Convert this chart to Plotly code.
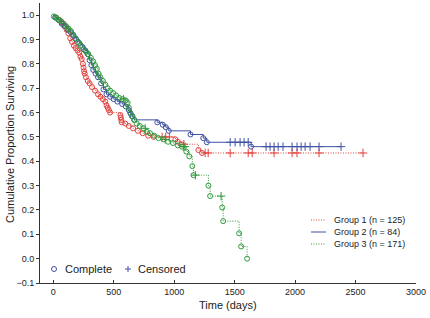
import plotly.graph_objects as go

# Group 1 (red): event times (complete) and survival after event
g1_event_t = [25, 50, 70, 90, 110, 125, 140, 155, 170, 185, 200, 215, 225, 235, 245, 250, 255, 260, 270, 285,
              300, 320, 345, 370, 390, 410, 430, 440, 450, 460, 470, 555, 558, 562, 566, 595, 625, 660, 700, 740,
              785, 830, 1010, 1030, 1060, 1200, 1230]
g1_event_s = [0.99, 0.98, 0.97, 0.955, 0.94, 0.925, 0.905, 0.89, 0.875, 0.865, 0.855, 0.845, 0.83, 0.82, 0.80,
              0.785, 0.77, 0.76, 0.745, 0.73, 0.72, 0.705, 0.69, 0.675, 0.665, 0.655, 0.645, 0.63, 0.62, 0.61,
              0.60, 0.59, 0.58, 0.57, 0.56, 0.555, 0.545, 0.535, 0.525, 0.515, 0.505, 0.50, 0.49, 0.48, 0.47,
              0.446, 0.434]
g1_cens_t = [900, 930, 960, 1080, 1256, 1281, 1463, 1612, 1645, 1826, 1975, 2016, 2198, 2562]
g1_cens_s = [0.50, 0.50, 0.50, 0.47, 0.434, 0.434, 0.434, 0.434, 0.434, 0.434, 0.434, 0.434, 0.434, 0.434]

# Group 2 (blue)
g2_event_t = [15, 45, 70, 95, 120, 145, 165, 190, 215, 240, 265, 285, 300, 315, 330, 350, 370, 395, 415, 440,
              470, 500, 530, 570, 600, 625, 640, 655, 670, 860, 905, 930, 955, 1135, 1240, 1270, 1636]
g2_event_s = [0.99, 0.98, 0.965, 0.955, 0.94, 0.93, 0.915, 0.90, 0.885, 0.87, 0.855, 0.84, 0.815, 0.795, 0.775,
              0.76, 0.745, 0.72, 0.695, 0.675, 0.665, 0.655, 0.645, 0.635, 0.625, 0.61, 0.595, 0.585, 0.57,
              0.56, 0.55, 0.54, 0.525, 0.51, 0.495, 0.478, 0.46]
g2_cens_t = [1463, 1504, 1545, 1578, 1612, 1760, 1793, 1826, 1860, 1900, 1975, 2016, 2050, 2083, 2124, 2198, 2380]
g2_cens_s = [0.478, 0.478, 0.478, 0.478, 0.478, 0.46, 0.46, 0.46, 0.46, 0.46, 0.46, 0.46, 0.46, 0.46, 0.46,
             0.46, 0.46]

# Group 3 (green)
g3_event_t = [5, 25, 45, 65, 85, 105, 125, 145, 165, 185, 205, 225, 250, 270, 290, 310, 330, 345, 360, 375,
              390, 410, 430, 450, 470, 495, 520, 545, 575, 600, 615, 625, 635, 650, 670, 690, 715, 745, 775,
              800, 835, 870, 910, 950, 990, 1030, 1065, 1100, 1125, 1150, 1160, 1283, 1297, 1397, 1405, 1537,
              1554, 1603]
g3_event_s = [0.995, 0.99, 0.98, 0.975, 0.965, 0.955, 0.945, 0.935, 0.92, 0.905, 0.89, 0.875, 0.86, 0.85, 0.84,
              0.825, 0.81, 0.795, 0.78, 0.76, 0.745, 0.73, 0.715, 0.70, 0.69, 0.68, 0.67, 0.66, 0.655, 0.65,
              0.64, 0.62, 0.60, 0.585, 0.57, 0.555, 0.545, 0.535, 0.52, 0.515, 0.505, 0.495, 0.49, 0.48,
              0.475, 0.465, 0.46, 0.44, 0.42, 0.38, 0.343, 0.30, 0.257, 0.21, 0.154, 0.104, 0.05, 0.0]
g3_cens_t = [580, 760, 925, 1075, 1090, 1175, 1388]
g3_cens_s = [0.655, 0.535, 0.49, 0.46, 0.46, 0.343, 0.257]

RED, BLUE, GREEN = "#e2403c", "#3f51a3", "#2f9a3c"
DOT = "1px,1.5px"

groups = [
    ("Group 1 (n = 125)", g1_event_t, g1_event_s, g1_cens_t, g1_cens_s, RED, DOT),
    ("Group 2 (n = 84)", g2_event_t, g2_event_s, g2_cens_t, g2_cens_s, BLUE, "solid"),
    ("Group 3 (n = 171)", g3_event_t, g3_event_s, g3_cens_t, g3_cens_s, GREEN, DOT),
]

fig = go.Figure()
for name, et, es, ct, cs, col, dash in groups:
    pts = sorted([(t, s) for t, s in zip(et, es)] + [(t, s) for t, s in zip(ct, cs)])
    xs = [0] + [p[0] for p in pts]
    ys = [1.0] + [p[1] for p in pts]
    fig.add_trace(go.Scatter(x=xs, y=ys, mode="lines", line=dict(color=col, width=1, dash=dash, shape="hv"),
                             showlegend=False, hoverinfo="skip"))
    fig.add_trace(go.Scatter(x=et, y=es, mode="markers",
                             marker=dict(symbol="circle-open", size=5, color=col, line=dict(width=1, color=col)),
                             showlegend=False))
    fig.add_trace(go.Scatter(x=ct, y=cs, mode="markers",
                             marker=dict(symbol="cross-thin", size=6, color=col, line=dict(width=1, color=col)),
                             showlegend=False))

L, R, T, B = 40, 416, 3, 283
W_, H_ = R - L, B - T
def px(x):
    return (x - L) / W_
def py(y):
    return (B - y) / H_

shapes = []
annotations = []
legend_rows = [(220, "Group 1 (n = 125)", RED, DOT),
               (232, "Group 2 (n = 84)", BLUE, "solid"),
               (244, "Group 3 (n = 171)", GREEN, DOT)]
for yy, txt, col, dash in legend_rows:
    shapes.append(dict(type="line", xref="paper", yref="paper", x0=px(311), x1=px(326), y0=py(yy), y1=py(yy),
                       line=dict(color=col, width=1, dash=dash)))
    annotations.append(dict(xref="paper", yref="paper", x=px(332), y=py(yy), text=txt, showarrow=False,
                            xanchor="left", yanchor="middle", font=dict(size=9, color="#222")))

annotations.append(dict(xref="paper", yref="paper", x=px(63), y=py(269), text="Complete", showarrow=False,
                        xanchor="left", yanchor="middle", font=dict(size=11, color="#222")))
annotations.append(dict(xref="paper", yref="paper", x=px(136), y=py(269), text="Censored", showarrow=False,
                        xanchor="left", yanchor="middle", font=dict(size=11, color="#222")))
# axis titles
annotations.append(dict(xref="paper", yref="paper", x=px(228), y=py(305), text="Time (days)", showarrow=False,
                        xanchor="center", yanchor="middle", font=dict(size=11, color="#222")))
annotations.append(dict(xref="paper", yref="paper", x=px(10), y=py(145), text="Cumulative Proportion Surviving",
                        showarrow=False, textangle=-90, xanchor="center", yanchor="middle",
                        font=dict(size=11, color="#222")))

fig.update_layout(
    width=430, height=318,
    margin=dict(l=L, r=430 - R, t=T, b=318 - B, autoexpand=False),
    paper_bgcolor="white", plot_bgcolor="white",
    font=dict(family="Liberation Sans, Arial, sans-serif", size=9, color="#222"),
    shapes=shapes, annotations=annotations,
    xaxis=dict(range=[-110, 3000], tickvals=[0, 500, 1000, 1500, 2000, 2500, 3000], automargin=False,
               showgrid=False, zeroline=False, showline=True, linecolor="#333", linewidth=1,
               ticks="inside", ticklen=3, tickcolor="#333"),
    yaxis=dict(range=[-0.1, 1.05], tickvals=[-0.1, 0, 0.1, 0.2, 0.3, 0.4, 0.5, 0.6, 0.7, 0.8, 0.9, 1.0],
               automargin=False,
               tickformat=".1f", showgrid=False, zeroline=False, showline=True, linecolor="#333", linewidth=1,
               ticks="outside", ticklen=3, tickcolor="#333"),
    xaxis2=dict(domain=[px(51), px(57)], range=[-1, 1], visible=False, anchor="y2"),
    xaxis3=dict(domain=[px(125), px(131)], range=[-1, 1], visible=False, anchor="y2"),
    yaxis2=dict(domain=[py(272), py(266)], range=[-1, 1], visible=False, anchor="x2"),
    showlegend=False,
)

# Complete / Censored key markers
fig.add_trace(go.Scatter(x=[0.0], y=[0.0], xaxis="x2", yaxis="y2", mode="markers",
                         marker=dict(symbol="circle-open", size=5, color=BLUE, line=dict(width=1, color=BLUE)),
                         showlegend=False, hoverinfo="skip"))
fig.add_trace(go.Scatter(x=[0.0], y=[0.0], xaxis="x3", yaxis="y2", mode="markers",
                         marker=dict(symbol="cross-thin", size=6, color=BLUE, line=dict(width=1, color=BLUE)),
                         showlegend=False, hoverinfo="skip"))

fig.write_html("out.html", config={"displayModeBar": False},
               post_script="document.body.style.margin='0px';")
